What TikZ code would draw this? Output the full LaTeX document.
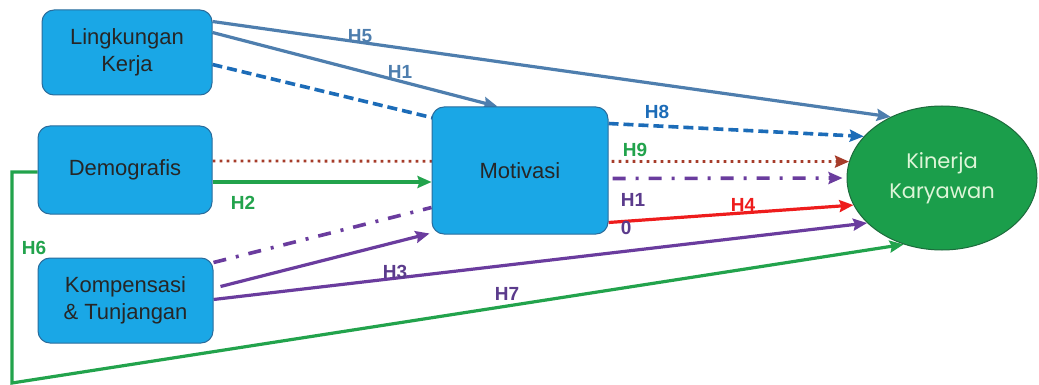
\documentclass[tikz,border=0pt]{standalone}
\usepackage{fontspec}
\setmainfont{Liberation Sans}
\newfontfamily\kfont{Poppins}
\usetikzlibrary{arrows.meta,calc,shapes.geometric,backgrounds}

\definecolor{boxfill}{HTML}{1AA7E6}
\definecolor{boxline}{HTML}{2A6C9C}
\definecolor{ellfill}{HTML}{1B9E4B}
\definecolor{ellline}{HTML}{1D6B3C}
\definecolor{ellText}{HTML}{DDF5D8}
\definecolor{steel}{HTML}{4E7EAE}
\definecolor{dblue}{HTML}{1C6CB8}
\definecolor{brownr}{HTML}{A63C2A}
\definecolor{gline}{HTML}{22A34C}
\definecolor{purp}{HTML}{6A3C9E}
\definecolor{purplab}{HTML}{5B3B8C}
\definecolor{redl}{HTML}{EE1C1C}

\tikzset{
  varbox/.style={draw=boxline, fill=boxfill, line width=1pt, rounded corners=12pt,
    inner sep=0pt, align=center, text=black!85,
    font=\fontsize{22}{27}\selectfont},
  outcome/.style={ellipse, draw=ellline, fill=ellfill, line width=1pt, inner sep=0pt,
    minimum width=190pt, minimum height=144pt, align=center, text=ellText,
    font=\kfont\fontsize{21}{30}\selectfont},
  tip/.style={-{Stealth[length=14pt,width=12pt,inset=2pt]}},
  link/.style={line width=3.2pt, tip},
  dashedlink/.style={line width=3.6pt, dash pattern=on 10pt off 5pt},
  dottedlink/.style={line width=2.8pt, dash pattern=on 2.8pt off 4.2pt},
  dashdotlink/.style={line width=3.6pt, dash pattern=on 13pt off 10pt on 3pt off 10pt},
  hlabel/.style={font=\bfseries\fontsize{19}{20}\selectfont, inner sep=0pt, align=left}
}

\begin{document}
\begin{tikzpicture}[x=1pt,y=-1pt]
\useasboundingbox (0,0) rectangle (1039,385);

% variables
\node[varbox, minimum width=170pt, minimum height=85pt] (L) at (127,52.5) {Lingkungan\\Kerja};
\node[varbox, minimum width=174pt, minimum height=88pt] (D) at (125,170) {Demografis};
\node[varbox, minimum width=175pt, minimum height=85pt] (C) at (125.5,300.5) {Kompensasi\\\& Tunjangan};
\node[varbox, minimum width=176pt, minimum height=127pt] (M) at (520,170.5) {Motivasi};
\node[outcome] (K) at (942,178) {Kinerja\\Karyawan};

\coordinate (gstart) at ($(D.west)+(0,2)$);
\coordinate (bend) at (12,383);

\begin{scope}[on background layer]
  \fill[white] (0,0) rectangle (1039,385);

  % Lingkungan Kerja
  \draw[link, steel] ($(L.north east)+(0,12)$) -- (K.130);
  \draw[link, steel] ($(L.north east)+(0,23)$) -- ($(M.north west)+(66,0)$);
  \draw[dashedlink, dblue] ($(L.north east)+(0,55)$) -- ($(M.north west)+(4,12)$);
  \draw[dashedlink, dblue, tip] ($(M.north east)+(0,17)$) -- (K.152);

  % Demografis
  \draw[dottedlink, brownr, tip] ($(D.east)+(0,-9)$) -- (K.170);
  \draw[link, gline] ($(D.east)+(0,12)$) -- ($(M.west)+(0,11.5)$);
  \draw[link, gline] (gstart) -- (gstart -| bend) -- (bend) -- (K.240);

  % Kompensasi & Tunjangan
  \draw[dashdotlink, purp] ($(C.north east)+(0,5)$) -- ($(M.south west)+(0,-27)$);
  \draw[dashdotlink, purp, tip, shorten >=4pt] ($(M.east)+(4,8)$) -- (K.west);
  \draw[link, purp] ($(C.north east)+(7,29)$) -- ($(M.south west)+(-2,-1)$);
  \draw[link, purp] ($(C.north east)+(0,42)$) -- (K.211);

  % Motivasi
  \draw[link, redl] ($(M.south east)+(0,-12)$) -- (K.197);
\end{scope}

% hypothesis labels
\node[hlabel, text=steel] (h5) at (360,36) {H5};
\node[hlabel, text=steel] (h1) at (400,72) {H1};
\node[hlabel, text=dblue] (h8) at (657,112) {H8};
\node[hlabel, text=gline] (h9) at (635,150) {H9};
\node[hlabel, text=gline] (h2) at (243,203) {H2};
\node[hlabel, text=gline] (h6) at (34,248) {H6};
\node[hlabel, text=purplab] (h3) at (395,272) {H3};
\node[hlabel, text=purplab] (h7) at (507,294) {H7};
\node[hlabel, text=redl] (h4) at (743,205) {H4};
\node[hlabel, text=purplab, font=\bfseries\fontsize{19}{28}\selectfont] (h10) at (633,214) {H1\\0};
\end{tikzpicture}
\end{document}
